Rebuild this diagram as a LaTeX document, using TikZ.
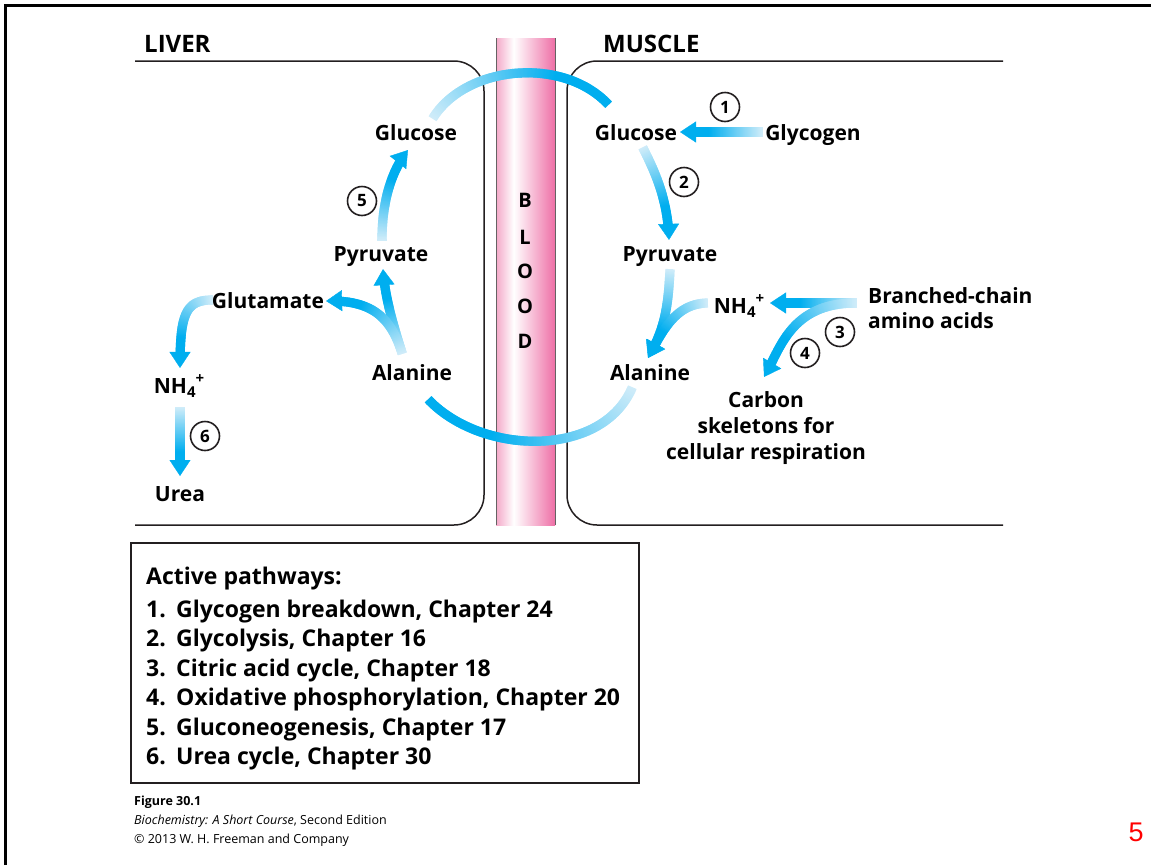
\documentclass[tikz,border=0pt]{standalone}
\usepackage{fontspec}
\setmainfont{Open Sans}
\newfontfamily\arialf{Liberation Sans}
\usetikzlibrary{decorations.markings,arrows.meta}
\definecolor{cyanA}{HTML}{00AEEF}
\definecolor{paleA}{HTML}{CFECF9}
\definecolor{pinkL}{HTML}{F4A8C8}
\definecolor{pinkR}{HTML}{EE6FA6}
\definecolor{lineC}{HTML}{231F20}
\pgfdeclarehorizontalshading{bloodsh}{100bp}{color(0bp)=(pinkL); color(25bp)=(pinkL); color(40bp)=(white); color(75bp)=(pinkR); color(100bp)=(pinkR)}
\newcommand\gseg[1]{%
  \pgfkeysgetvalue{/pgf/decoration/mark info/distance from start}\gdist
  \pgfmathsetmacro\gf{\gdist/\pgfdecoratedpathlength}%
  \pgfmathtruncatemacro\gp{min(100,#1+\gf/0.65*(100-#1))}%
  \fill[cyanA!\gp!paleA] (-0.9pt,-4.6pt) rectangle (0.9pt,4.6pt);}
\newcommand\nhfour{NH\raisebox{-0.35ex}{\fontsize{15}{15}\selectfont 4}\raisebox{0.8ex}{\fontsize{15}{15}\selectfont +}}
\tikzset{
  lbl/.style={inner sep=0pt, anchor=base, font=\fontsize{21}{25}\selectfont\bfseries},
  head/.style={inner sep=0pt, anchor=base west, font=\fontsize{24}{28}\selectfont\bfseries},
  num/.style={circle, draw=lineC, line width=1.6pt, minimum size=29pt, inner sep=0pt, font=\fontsize{17}{17}\selectfont\bfseries},
  bl/.style={inner sep=0pt, font=\fontsize{20}{20}\selectfont\bfseries},
  legtxt/.style={inner sep=0pt, anchor=base west, font=\fontsize{23}{27}\selectfont\bfseries},
  garrow/.style={decorate, decoration={markings,
     mark=between positions 0 and -13pt step 1pt with {\gseg{#1}},
     mark=at position 1 with {\arrow[cyanA]{Triangle[length=16pt,width=21pt]}}}},
  garrow/.default=0,
  cell/.style={draw=lineC, line width=1.5pt, rounded corners=30pt}
}
\begin{document}
\begin{tikzpicture}[x=1pt,y=-1pt]
\useasboundingbox (0,0) rectangle (1151,865);
% slide frame
\draw[line width=3pt] (5,865) -- (5,5) -- (1151,5);
% blood vessel
\shade[shading=bloodsh] (496,38) rectangle (555,525);
\draw[lineC!70, line width=1pt] (496,38) -- (496,525) (555,38) -- (555,525);
\node[bl] (b1) at (525,200) {B};
\node[bl] (b2) at (525,237) {L};
\node[bl] (b3) at (525,271) {O};
\node[bl] (b4) at (525,306) {O};
\node[bl] (b5) at (525,341) {D};
% compartments
\draw[cell] (135,61) -- (484,61) -- (484,525) -- (135,525);
\draw[cell] (1003,61) -- (567,61) -- (567,525) -- (1003,525);
\node[head] (liver) at (144,52) {LIVER};
\node[head] (muscle) at (603,52) {MUSCLE};
% labels
\node[lbl] (lglc) at (416,140) {Glucose};
\node[lbl] (lpyr) at (381,261) {Pyruvate};
\node[lbl] (glu) at (268,308) {Glutamate};
\node[lbl] (lala) at (412,380) {Alanine};
\node[lbl] (lnh) at (179,393) {\nhfour};
\node[lbl] (urea) at (180,501) {Urea};
\node[lbl] (mglc) at (636,140) {Glucose};
\node[lbl] (glyc) at (813,140) {Glycogen};
\node[lbl] (mpyr) at (670,261) {Pyruvate};
\node[lbl] (mnh) at (739,313) {\nhfour};
\node[lbl] (mala) at (650,380) {Alanine};
\node[lbl, anchor=base west] (bca1) at (868,303) {Branched-chain};
\node[lbl, anchor=base west] (bca2) at (868,328) {amino acids};
\node[lbl] (carb1) at (766,407) {Carbon};
\node[lbl] (carb2) at (766,433) {skeletons for};
\node[lbl] (carb3) at (766,459) {cellular respiration};
% numbers
\node[num] (c1) at (725,107) {1};
\node[num] (c2) at (684,182) {2};
\node[num] (c3) at (840,332) {3};
\node[num] (c4) at (805,353) {4};
\node[num] (c5) at (362,201) {5};
\node[num] (c6) at (205,436) {6};
% arrows
\path[garrow] ([shift={(17,-22)}]lglc.base) .. controls (468,62) and (575,55) .. ([shift={(-20,-26)}]mglc.base);
\path[garrow] ([shift={(-51,-8)}]glyc.base) -- ([shift={(44,-8)}]mglc.base);
\path[garrow] ([shift={(7,8)}]mglc.base) .. controls (655,172) and (668,200) .. ([shift={(-1,-21)}]mpyr.base);
\path[garrow] ([shift={(0,9)}]mpyr.base) .. controls (668,310) and (664,330) .. ([shift={(-2,-22)}]mala.base);
\path[garrow] ([shift={(-32,-10)}]mnh.base) .. controls (678,304) and (665,325) .. ([shift={(-2,-22)}]mala.base);
\path[garrow] ([shift={(-12,0)}]bca1.base west) -- ([shift={(31,-10)}]mnh.base);
\path[garrow] ([shift={(-12,0)}]bca1.base west) .. controls (790,303) and (780,350) .. ([shift={(-2,-30)}]carb1.base);
\path[garrow] ([shift={(-18,8)}]mala.base) .. controls (600,462) and (470,455) .. ([shift={(9,11)}]lala.base);
\path[garrow] ([shift={(-10,-27)}]lala.base) .. controls (395,330) and (385,300) .. ([shift={(2,8)}]lpyr.base);
\path[garrow] ([shift={(-10,-27)}]lala.base) .. controls (390,315) and (370,300) .. ([shift={(58,-7)}]glu.base);
\path[garrow] ([shift={(1,-21)}]lpyr.base) .. controls (382,200) and (392,170) .. ([shift={(-8,10)}]lglc.base);
\path[garrow] ([shift={(-56,-8)}]glu.base) .. controls (185,300) and (180,315) .. ([shift={(1,-25)}]lnh.base);
\path[garrow] ([shift={(1,15)}]lnh.base) -- ([shift={(0,-25)}]urea.base);
% legend
\draw[line width=2pt, lineC] (131,543) rectangle (639,783);
\node[legtxt] (lt) at (146,584) {Active pathways:};
\foreach \n/\t/\yy in {1/Glycogen breakdown{,} Chapter 24/617, 2/Glycolysis{,} Chapter 16/646.5, 3/Citric acid cycle{,} Chapter 18/676, 4/Oxidative phosphorylation{,} Chapter 20/705.5, 5/Gluconeogenesis{,} Chapter 17/735, 6/Urea cycle{,} Chapter 30/764.5}{
  \node[legtxt] (ln\n) at (146,\yy) {\n.};
  \node[legtxt] (lx\n) at (176,\yy) {\t};
}
% caption
\node[inner sep=0pt, anchor=base west, font=\fontsize{12.5}{14}\selectfont\bfseries] (fig) at (134,805) {Figure 30.1};
\node[inner sep=0pt, anchor=base west, font=\fontsize{12.5}{14}\selectfont] (book) at (134,824) {\textit{Biochemistry: A Short Course}, Second Edition};
\node[inner sep=0pt, anchor=base west, font=\fontsize{12.5}{14}\selectfont] (copy) at (134,843) {\textcopyright\ 2013 W. H. Freeman and Company};
\node[inner sep=0pt, text=red, font=\arialf\fontsize{27}{27}\selectfont] (pg) at (1136,832) {5};
\end{tikzpicture}
\end{document}
